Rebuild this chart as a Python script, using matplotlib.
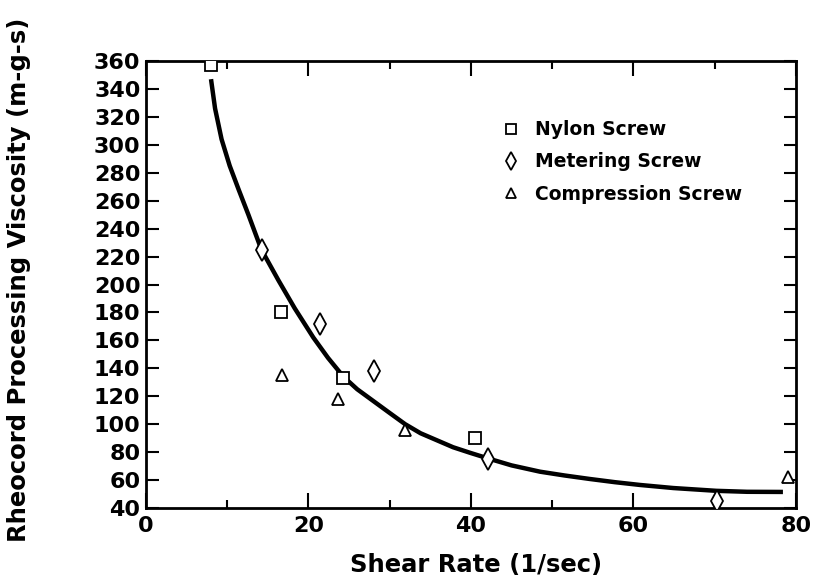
import matplotlib.pyplot as plt
from matplotlib.lines import Line2D

# measured points
nylon_x = [8.0, 16.6, 24.3, 40.5]
nylon_y = [357, 180, 133, 90]
meter_x = [14.3, 21.4, 28.1, 42.1, 70.3]
meter_y = [225, 172, 138, 75, 45]
comp_x = [16.7, 23.6, 31.9, 79.0]
comp_y = [135, 118, 96, 62]

# fitted curve
curve_x = [8.0, 8.5, 9.3, 10.3, 11.4, 12.6, 14.2, 16.3, 18.3, 20.6, 22.4,
           24.3, 26.0, 28.0, 30.0, 31.9, 33.8, 35.8, 37.8, 39.9, 42.1, 45.0,
           48.5, 51.5, 54.6, 57.7, 60.8, 64.9, 70.2, 74.0, 78.4]
curve_y = [347, 326, 304, 285, 268, 250, 225, 203, 183, 162, 147.5,
           134, 125, 116.5, 108, 100, 93.5, 88.5, 83.5, 79.5, 75.5, 70.5,
           66, 63.3, 60.8, 58.5, 56.5, 54.3, 52.3, 51.6, 51.5]

x_ticks = [0, 20, 40, 60, 80]
y_ticks = list(range(40, 361, 20))

plt.rcParams["font.family"] = "DejaVu Sans"
plt.rcParams["font.weight"] = "bold"

fig = plt.figure(figsize=(8.13, 5.86), dpi=100)
ax = fig.add_axes([0.1796, 0.1331, 0.7994, 0.7628])

ax.plot(curve_x, curve_y, color="black", lw=3.2, solid_joinstyle="round",
        solid_capstyle="butt", zorder=2)

mk = dict(linestyle="none", markerfacecolor="white", markeredgecolor="black",
          markeredgewidth=1.3, zorder=3)
ax.plot(nylon_x, nylon_y, marker="s", markersize=9, **mk)
ax.plot(meter_x, meter_y, marker="d", markersize=11, **mk)
ax.plot(comp_x, comp_y, marker="^", markersize=8, **mk)

ax.set_xlim(0, 80)
ax.set_ylim(40, 360)
ax.set_xticks(x_ticks)
ax.set_xticks([10, 30, 50, 70], minor=True)
ax.set_yticks(y_ticks)
ax.tick_params(axis="both", which="both", direction="in", top=True, right=True,
               labelsize=16, width=1.5)
ax.tick_params(axis="x", which="major", length=11, pad=6)
ax.tick_params(axis="x", which="minor", length=6)
ax.tick_params(axis="y", which="major", length=9, pad=4)
for s in ax.spines.values():
    s.set_linewidth(2)

ax.set_xlabel("Shear Rate (1/sec)", fontsize=17.5, fontweight="bold")
ax.set_ylabel("Rheocord Processing Viscosity (m-g-s)", fontsize=17.5,
              fontweight="bold")
ax.xaxis.set_label_coords(0.508, -0.1)
ax.yaxis.set_label_coords(-0.177, 0.51)

handles = [
    Line2D([], [], marker="s", markersize=7, **mk),
    Line2D([], [], marker="d", markersize=9, **mk),
    Line2D([], [], marker="^", markersize=7, **mk),
]
ax.legend(handles, ["Nylon Screw", "Metering Screw", "Compression Screw"],
          loc="upper left", bbox_to_anchor=(0.524, 0.905), frameon=False,
          prop={"size": 13.5, "weight": "bold"}, handlelength=0.8,
          handletextpad=0.9, labelspacing=0.7)

fig.savefig("out.png", dpi=100)
